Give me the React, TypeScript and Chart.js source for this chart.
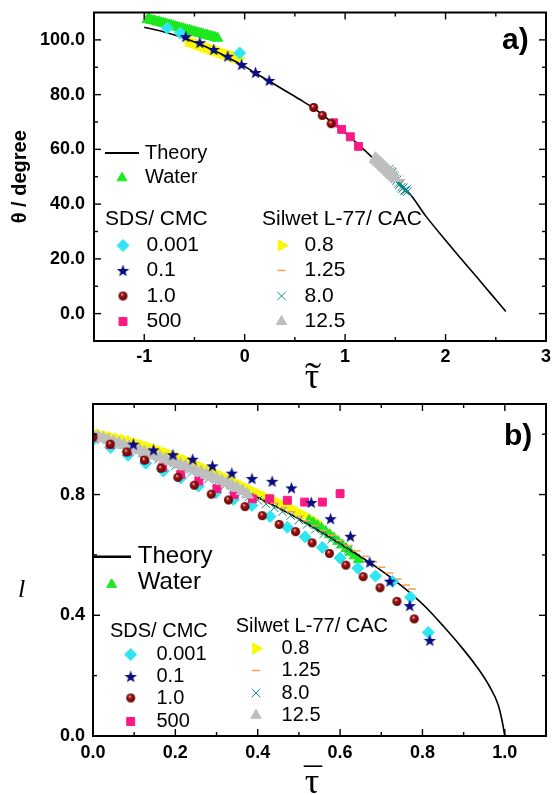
import React, { useEffect, useRef } from "react";
import { Chart, registerables } from "chart.js";
import { drawPoint } from "chart.js/helpers";

Chart.register(...registerables);

// ---------------- Panel a: theta vs tilde-tau ----------------
const aTheoryX = [-1, -0.8, -0.6, -0.45, -0.3, -0.15, 0, 0.1, 0.25, 0.4, 0.55, 0.7, 0.85, 1.0, 1.15, 1.3, 1.45, 1.65, 1.8, 2.0, 2.15, 2.3, 2.45, 2.6];
const aTheoryY = [104.6, 102.9, 100.6, 98.5, 96.0, 93.2, 90.3, 88.0, 84.8, 81.5, 78.2, 74.7, 70.4, 66.0, 61.2, 56.0, 50.5, 43.5, 35.8, 26.8, 20.2, 13.8, 7.3, 0.8];

const aWaterX = [-0.97, -0.95, -0.93, -0.91, -0.89, -0.87, -0.85, -0.83, -0.81, -0.79, -0.77, -0.75, -0.73, -0.71, -0.69, -0.67, -0.65, -0.63, -0.61, -0.59, -0.57, -0.55, -0.53, -0.51, -0.49, -0.47, -0.45, -0.43, -0.41, -0.39, -0.37, -0.35, -0.33, -0.31, -0.29, -0.27];
const aWaterY = [107.4, 107.6, 107.1, 107.0, 106.9, 106.5, 106.6, 106.2, 106.1, 105.9, 105.6, 105.5, 105.3, 105.1, 104.8, 104.7, 104.4, 104.2, 104.1, 103.8, 103.6, 103.5, 103.2, 103.0, 102.9, 102.6, 102.4, 102.3, 102.0, 101.8, 101.7, 101.4, 101.2, 101.1, 100.8, 100.6];

const aCyanX = [-0.77, -0.64, -0.05];
const aCyanY = [104.3, 102.5, 95.2];

const aStarX = [-0.586, -0.446, -0.308, -0.168, -0.03, 0.108, 0.244];
const aStarY = [101.2, 99.0, 96.5, 94.0, 91.0, 88.1, 85.2];

const aBrownX = [0.687, 0.773, 0.861];
const aBrownY = [75.3, 72.4, 69.4];

const aPinkX = [0.884, 0.966, 1.052, 1.134];
const aPinkY = [69.7, 67.3, 64.6, 61.1];

const aYellowX = [-0.56, -0.535, -0.51, -0.485, -0.46, -0.435, -0.41, -0.385, -0.36, -0.335, -0.31, -0.285, -0.26, -0.235, -0.21, -0.185, -0.16, -0.135, -0.11, -0.085, -0.06];
const aYellowY = [99.6, 99.3, 99.0, 98.6, 98.3, 98.0, 97.6, 97.3, 97.0, 96.6, 96.3, 96.0, 95.7, 95.4, 95.1, 94.8, 94.5, 94.2, 93.9, 93.6, 93.3];

const aOrangeX = [1.47, 1.51, 1.55];
const aOrangeY = [49.4, 49.0, 48.8];

const aTealX = [1.44, 1.45, 1.46, 1.47, 1.48, 1.49, 1.5, 1.51, 1.52, 1.53, 1.54, 1.55, 1.56, 1.57, 1.58, 1.59, 1.6, 1.61, 1.62];
const aTealY = [52.8, 52.0, 51.5, 51.6, 50.6, 50.0, 49.2, 48.6, 48.9, 47.6, 47.0, 47.5, 46.2, 45.6, 46.0, 45.0, 44.8, 45.3, 44.6];

const aGrayX = [1.3, 1.3125, 1.325, 1.3375, 1.35, 1.3625, 1.375, 1.3875, 1.4, 1.4125, 1.425, 1.4375, 1.45, 1.4625, 1.475, 1.4875, 1.5];
const aGrayY = [56.6, 56.2, 55.8, 55.3, 54.9, 54.5, 54.0, 53.6, 53.1, 52.7, 52.3, 51.8, 51.4, 50.9, 50.5, 50.1, 49.6];

// ---------------- Panel b: l vs bar-tau ----------------
const bTheoryX = [0, 0.1, 0.2, 0.3, 0.4, 0.475, 0.555, 0.635, 0.69, 0.73, 0.77, 0.81, 0.85, 0.89, 0.93, 0.963, 0.984, 0.993, 1.0];
const bTheoryY = [1.0, 0.955, 0.905, 0.85, 0.79, 0.738, 0.675, 0.607, 0.558, 0.518, 0.474, 0.424, 0.365, 0.302, 0.233, 0.164, 0.103, 0.053, 0.0];

const bCyanX = [0.002, 0.043, 0.085, 0.128, 0.171, 0.213, 0.256, 0.298, 0.341, 0.386, 0.43, 0.472, 0.515, 0.557, 0.6, 0.643, 0.686, 0.727, 0.771, 0.814];
const bCyanY = [0.984, 0.956, 0.93, 0.904, 0.878, 0.855, 0.828, 0.806, 0.784, 0.764, 0.727, 0.692, 0.66, 0.625, 0.59, 0.556, 0.53, 0.512, 0.46, 0.343];

const bStarX = [0.098, 0.147, 0.194, 0.242, 0.29, 0.337, 0.386, 0.435, 0.482, 0.53, 0.577, 0.625, 0.672, 0.721, 0.769, 0.818];
const bStarY = [0.967, 0.948, 0.932, 0.917, 0.895, 0.871, 0.853, 0.844, 0.822, 0.774, 0.72, 0.662, 0.576, 0.513, 0.432, 0.317];

const bBrownX = [0.0, 0.042, 0.082, 0.125, 0.165, 0.206, 0.246, 0.287, 0.329, 0.369, 0.411, 0.452, 0.492, 0.532, 0.574, 0.614, 0.656, 0.697, 0.738, 0.78];
const bBrownY = [0.99, 0.967, 0.941, 0.914, 0.887, 0.857, 0.831, 0.801, 0.782, 0.76, 0.73, 0.701, 0.677, 0.64, 0.605, 0.566, 0.528, 0.491, 0.446, 0.388];

const bPinkX = [0.0, 0.042, 0.084, 0.126, 0.169, 0.213, 0.257, 0.301, 0.343, 0.387, 0.429, 0.472, 0.514, 0.557, 0.6];
const bPinkY = [0.99, 0.966, 0.942, 0.917, 0.89, 0.867, 0.845, 0.82, 0.8, 0.786, 0.786, 0.781, 0.775, 0.775, 0.803];

const bGrayX = [0, 0.0125, 0.025, 0.0375, 0.05, 0.0625, 0.075, 0.0875, 0.1, 0.1125, 0.125, 0.1375, 0.15, 0.1625, 0.175, 0.1875, 0.2, 0.2125, 0.225, 0.2375, 0.25, 0.2625, 0.275, 0.2875, 0.3, 0.3125, 0.325, 0.3375, 0.35, 0.3625, 0.375];
const bGrayY = [0.996, 0.991, 0.986, 0.981, 0.975, 0.97, 0.964, 0.958, 0.953, 0.947, 0.941, 0.935, 0.929, 0.923, 0.917, 0.911, 0.905, 0.899, 0.893, 0.886, 0.88, 0.873, 0.866, 0.859, 0.852, 0.845, 0.838, 0.83, 0.822, 0.812, 0.8];

const bYellowX = [0, 0.015, 0.03, 0.045, 0.06, 0.075, 0.09, 0.105, 0.12, 0.135, 0.15, 0.165, 0.18, 0.195, 0.21, 0.225, 0.24, 0.255, 0.27, 0.285, 0.3, 0.315, 0.33, 0.345, 0.36, 0.375, 0.39, 0.405, 0.42, 0.435, 0.45, 0.465, 0.48, 0.495, 0.51, 0.525, 0.54];
const bYellowY = [1.003, 0.999, 0.995, 0.99, 0.986, 0.981, 0.976, 0.97, 0.964, 0.958, 0.951, 0.944, 0.937, 0.929, 0.921, 0.913, 0.905, 0.896, 0.887, 0.878, 0.869, 0.86, 0.85, 0.84, 0.83, 0.821, 0.81, 0.801, 0.792, 0.783, 0.773, 0.764, 0.754, 0.744, 0.733, 0.722, 0.71];

const bWaterX = [0.525, 0.535, 0.545, 0.555, 0.565, 0.575, 0.585, 0.595, 0.605, 0.615, 0.625, 0.635, 0.645];
const bWaterY = [0.714, 0.706, 0.697, 0.688, 0.678, 0.667, 0.656, 0.645, 0.633, 0.621, 0.609, 0.597, 0.585];

const bTealX = [0, 0.02, 0.04, 0.06, 0.08, 0.1, 0.12, 0.14, 0.16, 0.18, 0.2, 0.22, 0.24, 0.26, 0.28, 0.3, 0.32, 0.34, 0.36, 0.38, 0.4, 0.42, 0.44, 0.46, 0.48, 0.5, 0.52, 0.54, 0.56, 0.58, 0.6, 0.62];
const bTealY = [0.99, 0.982, 0.974, 0.965, 0.956, 0.947, 0.937, 0.927, 0.917, 0.906, 0.895, 0.884, 0.873, 0.862, 0.851, 0.84, 0.829, 0.817, 0.805, 0.793, 0.781, 0.769, 0.756, 0.743, 0.73, 0.716, 0.701, 0.685, 0.669, 0.652, 0.635, 0.618];

const bOrangeX = [0.42, 0.44, 0.46, 0.48, 0.5, 0.52, 0.54, 0.56, 0.58, 0.6, 0.62, 0.64, 0.66, 0.68, 0.7, 0.72, 0.74, 0.76, 0.775];
const bOrangeY = [0.785, 0.771, 0.757, 0.743, 0.728, 0.713, 0.697, 0.681, 0.665, 0.648, 0.631, 0.613, 0.595, 0.577, 0.559, 0.54, 0.52, 0.5, 0.487];

// ---------------- legend / axis text ----------------
const sdsLabels = ["0.001", "0.1", "1.0", "500"];
const silwetLabels = ["0.8", "1.25", "8.0", "12.5"];

const FONT = '"Liberation Sans", Arial, Helvetica, sans-serif';
const SERIF = '"Liberation Serif", "DejaVu Serif", serif';

const COLORS = {
  water: "#1ee81e",
  cyan: "#2ee6f2",
  star: "#0c0c82",
  brown: "#8a0c0c",
  pink: "#fa1a84",
  yellow: "#f8f800",
  orange: "#f5a04e",
  teal: "#138a8a",
  gray: "#bebebe",
};

type Mk = { pointStyle: any; radius: number; rotation: number; color: string; borderWidth: number };

function makeStar(d: number, color: string) {
  const c = document.createElement("canvas");
  c.width = d;
  c.height = d;
  const g = c.getContext("2d")!;
  const cx = d / 2;
  const cy = d / 2 + 0.6;
  const R = d / 2;
  const r = R * 0.42;
  g.beginPath();
  for (let i = 0; i < 10; i++) {
    const ang = -Math.PI / 2 + (i * Math.PI) / 5;
    const rad = i % 2 === 0 ? R : r;
    g.lineTo(cx + rad * Math.cos(ang), cy + rad * Math.sin(ang));
  }
  g.closePath();
  g.fillStyle = color;
  g.fill();
  return c;
}

function makeSphere(d: number) {
  const s = d + 2;
  const c = document.createElement("canvas");
  c.width = s;
  c.height = s;
  const g = c.getContext("2d")!;
  const cx = s / 2;
  const grad = g.createRadialGradient(cx - d * 0.12, cx - d * 0.18, 0.3, cx, cx, d / 2);
  grad.addColorStop(0, "#f4d0d0");
  grad.addColorStop(0.28, "#a81818");
  grad.addColorStop(0.8, "#780404");
  grad.addColorStop(1, "#4a0000");
  g.beginPath();
  g.arc(cx, cx, d / 2, 0, Math.PI * 2);
  g.fillStyle = grad;
  g.fill();
  return c;
}

function makeMarkers(): Record<string, Mk> {
  return {
    water: { pointStyle: "triangle", radius: 6, rotation: 0, color: COLORS.water, borderWidth: 1 },
    cyan: { pointStyle: "rectRot", radius: 6, rotation: 0, color: COLORS.cyan, borderWidth: 1 },
    star: { pointStyle: makeStar(13, COLORS.star), radius: 6, rotation: 0, color: COLORS.star, borderWidth: 0 },
    brown: { pointStyle: makeSphere(9), radius: 5, rotation: 0, color: COLORS.brown, borderWidth: 0 },
    pink: { pointStyle: "rect", radius: 5.6, rotation: 0, color: COLORS.pink, borderWidth: 1 },
    yellow: { pointStyle: "triangle", radius: 6.5, rotation: 90, color: COLORS.yellow, borderWidth: 1 },
    orange: { pointStyle: "line", radius: 4, rotation: 0, color: COLORS.orange, borderWidth: 1.5 },
    teal: { pointStyle: "crossRot", radius: 6, rotation: 0, color: COLORS.teal, borderWidth: 1 },
    gray: { pointStyle: "triangle", radius: 7, rotation: 0, color: COLORS.gray, borderWidth: 1 },
  };
}

const pts = (xs: number[], ys: number[]) => xs.map((x, i) => ({ x, y: ys[i] }));

function scatterSet(label: string, xs: number[], ys: number[], m: Mk, order: number) {
  return {
    label,
    data: pts(xs, ys),
    showLine: false,
    order,
    pointStyle: m.pointStyle,
    pointRadius: m.radius,
    pointHoverRadius: m.radius,
    pointRotation: m.rotation,
    pointBackgroundColor: m.color,
    pointBorderColor: m.color,
    pointBorderWidth: m.borderWidth,
    backgroundColor: m.color,
    borderColor: m.color,
  };
}

function lineSet(xs: number[], ys: number[], order: number) {
  return {
    label: "Theory",
    data: pts(xs, ys),
    showLine: true,
    order,
    borderColor: "#000",
    borderWidth: 1.6,
    pointRadius: 0,
    pointHoverRadius: 0,
    cubicInterpolationMode: "monotone" as const,
    fill: false,
  };
}

function drawMk(ctx: CanvasRenderingContext2D, m: Mk, x: number, y: number, scale = 1) {
  ctx.save();
  ctx.fillStyle = m.color;
  ctx.strokeStyle = m.color;
  ctx.lineWidth = m.borderWidth;
  drawPoint(ctx, { pointStyle: m.pointStyle, rotation: m.rotation, radius: m.radius * scale, borderWidth: m.borderWidth } as any, x, y);
  ctx.restore();
}

function drawTau(ctx: CanvasRenderingContext2D, x: number, y: number, accent: "tilde" | "bar") {
  ctx.save();
  ctx.fillStyle = "#000";
  ctx.textAlign = "center";
  ctx.textBaseline = "alphabetic";
  ctx.font = `36px ${SERIF}`;
  ctx.fillText("\u03c4", x, y);
  if (accent === "tilde") {
    ctx.translate(x + 1, y);
    ctx.scale(1.35, 1);
    ctx.fillText("\u02dc", 0, 0);
  } else {
    ctx.fillText("\u00af", x + 1, y);
  }
  ctx.restore();
}

type Decor = {
  xMajor: number[];
  xMinor: number[];
  yMajor: number[];
  yMinor: number[];
  draw: (ctx: CanvasRenderingContext2D, mk: Record<string, Mk>) => void;
};

function decorPlugin(d: Decor, mk: Record<string, Mk>) {
  return {
    id: "decor",
    afterDraw(chart: any) {
      const { ctx, chartArea: ca, scales } = chart;
      ctx.save();
      ctx.strokeStyle = "#000";
      ctx.lineWidth = 2;
      ctx.strokeRect(ca.left, ca.top, ca.right - ca.left, ca.bottom - ca.top);
      ctx.lineWidth = 1.4;
      const seg = (x1: number, y1: number, x2: number, y2: number) => {
        ctx.beginPath();
        ctx.moveTo(x1, y1);
        ctx.lineTo(x2, y2);
        ctx.stroke();
      };
      const xt = (vals: number[], len: number) =>
        vals.forEach((v) => {
          const p = scales.x.getPixelForValue(v);
          seg(p, ca.bottom, p, ca.bottom - len);
          seg(p, ca.top, p, ca.top + len);
        });
      const yt = (vals: number[], len: number) =>
        vals.forEach((v) => {
          const p = scales.y.getPixelForValue(v);
          seg(ca.left, p, ca.left + len, p);
          seg(ca.right, p, ca.right - len, p);
        });
      xt(d.xMajor, 7);
      xt(d.xMinor, 4);
      yt(d.yMajor, 7);
      yt(d.yMinor, 4);
      d.draw(ctx, mk);
      ctx.restore();
    },
  };
}

const tickFont = { family: FONT, size: 18, weight: "bold" as const };

function drawLegendA(ctx: CanvasRenderingContext2D, mk: Record<string, Mk>) {
  ctx.fillStyle = "#000";
  ctx.strokeStyle = "#000";
  ctx.textAlign = "left";
  ctx.textBaseline = "middle";
  ctx.lineWidth = 2;
  ctx.beginPath();
  ctx.moveTo(105, 153);
  ctx.lineTo(139, 153);
  ctx.stroke();
  ctx.font = `20px ${FONT}`;
  ctx.fillText("Theory", 145, 153);
  drawMk(ctx, mk.water, 122, 178, 0.95);
  ctx.fillText("Water", 145, 177);
  ctx.font = `21px ${FONT}`;
  ctx.fillText("SDS/ CMC", 105, 219);
  ctx.fillText("Silwet L-77/ CAC", 262, 219);
  const rows = [245.5, 270.5, 296, 321.5];
  const left = [mk.cyan, mk.star, mk.brown, mk.pink];
  const right = [mk.yellow, mk.orange, mk.teal, mk.gray];
  rows.forEach((y, i) => {
    drawMk(ctx, left[i], 123, y);
    drawMk(ctx, right[i], 281.5, y, i === 3 ? 0.85 : 1);
    ctx.fillStyle = "#000";
    ctx.fillText(sdsLabels[i], 146.5, y);
    ctx.fillText(silwetLabels[i], 304.5, y);
  });
  ctx.font = `bold 30px ${FONT}`;
  ctx.fillText("a)", 502, 41);
  drawTau(ctx, 312, 388, "tilde");
}

function drawLegendB(ctx: CanvasRenderingContext2D, mk: Record<string, Mk>) {
  ctx.fillStyle = "#000";
  ctx.strokeStyle = "#000";
  ctx.textAlign = "left";
  ctx.textBaseline = "middle";
  ctx.lineWidth = 2.5;
  ctx.beginPath();
  ctx.moveTo(93, 161.7);
  ctx.lineTo(131, 161.7);
  ctx.stroke();
  ctx.font = `24px ${FONT}`;
  ctx.fillText("Theory", 137.8, 161);
  drawMk(ctx, mk.water, 111.7, 189.5, 0.95);
  ctx.fillText("Water", 137.8, 187.5);
  ctx.font = `20px ${FONT}`;
  ctx.fillText("SDS/ CMC", 110, 236.7);
  ctx.fillText("Silwet L-77/ CAC", 235.7, 231.5);
  const lrows = [259.5, 281.5, 303, 326.5];
  const rrows = [253.5, 275.5, 298, 320.3];
  const left = [mk.cyan, mk.star, mk.brown, mk.pink];
  const right = [mk.yellow, mk.orange, mk.teal, mk.gray];
  lrows.forEach((y, i) => {
    drawMk(ctx, left[i], 130.7, y);
    ctx.fillStyle = "#000";
    ctx.fillText(sdsLabels[i], 156.5, y);
  });
  rrows.forEach((y, i) => {
    drawMk(ctx, right[i], 256, y, i === 3 ? 0.85 : 1);
    ctx.fillStyle = "#000";
    ctx.fillText(silwetLabels[i], 281.6, y);
  });
  ctx.font = `bold 30px ${FONT}`;
  ctx.fillText("b)", 504, 42);
  drawTau(ctx, 312, 398, "bar");
  ctx.fillStyle = "#000";
  ctx.textAlign = "center";
  ctx.textBaseline = "middle";
  ctx.font = `italic 26px ${SERIF}`;
  ctx.fillText("l", 21.5, 195);
}

const zeroPadY = (w: number) => (s: any) => {
  s.width = w;
  s.paddingTop = 0;
  s.paddingBottom = 0;
};
const zeroPadX = (h: number) => (s: any) => {
  s.height = h;
  s.paddingLeft = 0;
  s.paddingRight = 0;
};

function configA(mk: Record<string, Mk>): any {
  return {
    type: "scatter",
    data: {
      datasets: [
        scatterSet("0.1", aStarX, aStarY, mk.star, 0),
        scatterSet("1.0", aBrownX, aBrownY, mk.brown, 1),
        scatterSet("12.5", aGrayX, aGrayY, mk.gray, 2),
        scatterSet("500", aPinkX, aPinkY, mk.pink, 3),
        scatterSet("0.001", aCyanX, aCyanY, mk.cyan, 4),
        scatterSet("1.25", aOrangeX, aOrangeY, mk.orange, 5),
        scatterSet("8.0", aTealX, aTealY, mk.teal, 6),
        lineSet(aTheoryX, aTheoryY, 7),
        scatterSet("Water", aWaterX, aWaterY, mk.water, 8),
        scatterSet("0.8", aYellowX, aYellowY, mk.yellow, 9),
      ],
    },
    options: {
      responsive: false,
      animation: false,
      devicePixelRatio: 1,
      layout: { padding: { left: 0, right: 6, top: 12.5, bottom: 0 } },
      plugins: { legend: { display: false }, tooltip: { enabled: false } },
      scales: {
        x: {
          type: "linear",
          min: -1.5,
          max: 3,
          afterFit: zeroPadX(54),
          grid: { display: false, drawTicks: false, tickLength: 0 },
          border: { display: false },
          ticks: {
            stepSize: 0.5,
            autoSkip: false,
            maxRotation: 0,
            padding: 5,
            color: "#000",
            font: tickFont,
            callback: (v: any) => {
              const n = Number(v);
              return Math.abs(n - Math.round(n)) < 1e-6 && n > -1.2 ? String(Math.round(n)) : "";
            },
          },
        },
        y: {
          type: "linear",
          min: -10,
          max: 110,
          afterFit: zeroPadY(94),
          grid: { display: false, drawTicks: false, tickLength: 0 },
          border: { display: false },
          title: {
            display: true,
            text: "\u03b8 / degree",
            color: "#000",
            font: { family: FONT, size: 20, weight: "bold" },
            padding: { top: 8, bottom: 0 },
          },
          ticks: {
            stepSize: 10,
            autoSkip: false,
            padding: 9,
            color: "#000",
            font: tickFont,
            callback: (v: any) => {
              const r = Math.round(Number(v));
              return r % 20 === 0 && r >= 0 && r <= 100 ? r.toFixed(1) : "";
            },
          },
        },
      },
    },
    plugins: [
      decorPlugin(
        {
          xMajor: [-1, 0, 1, 2],
          xMinor: [-0.5, 0.5, 1.5, 2.5],
          yMajor: [0, 20, 40, 60, 80, 100],
          yMinor: [10, 30, 50, 70, 90],
          draw: drawLegendA,
        },
        mk
      ),
    ],
  };
}

function configB(mk: Record<string, Mk>): any {
  return {
    type: "scatter",
    data: {
      datasets: [
        scatterSet("0.1", bStarX, bStarY, mk.star, 0),
        scatterSet("1.0", bBrownX, bBrownY, mk.brown, 1),
        scatterSet("12.5", bGrayX, bGrayY, mk.gray, 2),
        scatterSet("500", bPinkX, bPinkY, mk.pink, 3),
        scatterSet("0.001", bCyanX, bCyanY, mk.cyan, 4),
        scatterSet("1.25", bOrangeX, bOrangeY, mk.orange, 5),
        scatterSet("8.0", bTealX, bTealY, mk.teal, 6),
        lineSet(bTheoryX, bTheoryY, 7),
        scatterSet("Water", bWaterX, bWaterY, mk.water, 8),
        scatterSet("0.8", bYellowX, bYellowY, mk.yellow, 9),
      ],
    },
    options: {
      responsive: false,
      animation: false,
      devicePixelRatio: 1,
      layout: { padding: { left: 0, right: 5, top: 9, bottom: 0 } },
      plugins: { legend: { display: false }, tooltip: { enabled: false } },
      scales: {
        x: {
          type: "linear",
          min: 0,
          max: 1.1,
          afterFit: zeroPadX(59),
          grid: { display: false, drawTicks: false, tickLength: 0 },
          border: { display: false },
          ticks: {
            stepSize: 0.1,
            autoSkip: false,
            maxRotation: 0,
            padding: 6,
            color: "#000",
            font: tickFont,
            callback: (v: any) => {
              const r = Math.round(Number(v) * 10);
              return r % 2 === 0 && r <= 10 ? (r / 10).toFixed(1) : "";
            },
          },
        },
        y: {
          type: "linear",
          min: 0,
          max: 1.1,
          afterFit: zeroPadY(93),
          grid: { display: false, drawTicks: false, tickLength: 0 },
          border: { display: false },
          ticks: {
            stepSize: 0.1,
            autoSkip: false,
            padding: 8,
            color: "#000",
            font: tickFont,
            callback: (v: any) => {
              const r = Math.round(Number(v) * 10);
              return r === 0 || r === 4 || r === 8 ? (r / 10).toFixed(1) : "";
            },
          },
        },
      },
    },
    plugins: [
      decorPlugin(
        {
          xMajor: [0.2, 0.4, 0.6, 0.8, 1.0],
          xMinor: [0.1, 0.3, 0.5, 0.7, 0.9],
          yMajor: [0.4, 0.8],
          yMinor: [0.2, 0.6, 1.0],
          draw: drawLegendB,
        },
        mk
      ),
    ],
  };
}

export default function App() {
  const refA = useRef<HTMLCanvasElement>(null);
  const refB = useRef<HTMLCanvasElement>(null);
  useEffect(() => {
    const mk = makeMarkers();
    const ca = new Chart(refA.current!, configA(mk));
    const cb = new Chart(refB.current!, configB(mk));
    return () => {
      ca.destroy();
      cb.destroy();
    };
  }, []);
  return (
    <div style={{ position: "absolute", left: 0, top: 0, width: 554, height: 795, background: "#fff" }}>
      <canvas ref={refA} width={554} height={395} style={{ position: "absolute", left: 0, top: 0, width: 554, height: 395 }} />
      <canvas ref={refB} width={554} height={400} style={{ position: "absolute", left: 0, top: 395, width: 554, height: 400 }} />
    </div>
  );
}
